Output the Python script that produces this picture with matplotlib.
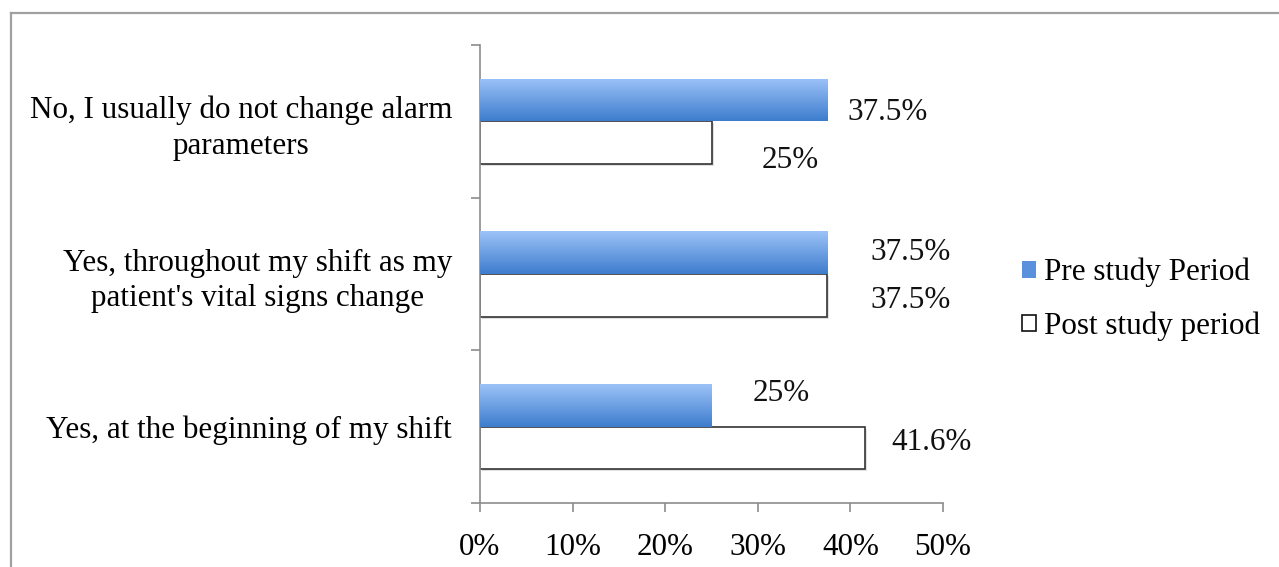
import numpy as np
import matplotlib
matplotlib.use("Agg")
import matplotlib.pyplot as plt
from matplotlib.lines import Line2D
from matplotlib.patches import Patch
from matplotlib.colors import LinearSegmentedColormap
import matplotlib.patheffects as pe

# ---- data ----
categories = ["No, I usually do not change alarm\nparameters",
              "Yes, throughout my shift as my\npatient's vital signs change",
              "Yes, at the beginning of my shift"]
pre_values = [37.5, 37.5, 25.0]
post_values = [25.0, 37.5, 41.6]
pre_labels = ["37.5%", "37.5%", "25%"]
post_labels = ["25%", "37.5%", "41.6%"]
series_names = ["Pre study Period", "Post study period"]
x_ticks = [0, 10, 20, 30, 40, 50]
x_tick_labels = ["0%", "10%", "20%", "30%", "40%", "50%"]

# label offsets (pixels: right of bar end, below bar centre)
pre_off = [(20, 13), (43, 0), (41, -12)]
post_off = [(50, 18), (43, 5), (26, -6)]

W, H, DPI = 1279, 567, 100
plt.rcParams['font.family'] = ['Liberation Serif', 'DejaVu Serif']
FS = 22.4
fig = plt.figure(figsize=(W / DPI, H / DPI), dpi=DPI)
ax = fig.add_axes([480 / W, 1 - 503 / H, (943 - 480) / W, (503 - 45) / H])

gray = '#8c8c8c'
h = 0.28
y = np.arange(len(categories))
shadow = [pe.SimplePatchShadow(offset=(1.5, -1.5), shadow_rgbFace='#000000', alpha=0.12), pe.Normal()]

pre_bars = ax.barh(y - h / 2, pre_values, height=h, color='#6a9de6', edgecolor='none', zorder=2)
post_bars = ax.barh(y + h / 2, post_values, height=h, color='white', edgecolor='#333333',
                    linewidth=1.2, zorder=2, path_effects=shadow)

cmap = LinearSegmentedColormap.from_list('g', ['#9cc2f8', '#3e7dcd'])
grad = np.linspace(0, 1, 64).reshape(-1, 1)
for b in pre_bars:
    x0, y0 = b.get_x(), b.get_y()
    im = ax.imshow(grad, cmap=cmap, aspect='auto', zorder=3,
                   extent=[x0, x0 + b.get_width(), y0 + b.get_height(), y0],
                   interpolation='bilinear')
    im.set_clip_path(b)

ax.set_xlim(0, 50)
ax.set_ylim(2.5, -0.5)

for bars, labs, offs in ((pre_bars, pre_labels, pre_off), (post_bars, post_labels, post_off)):
    for b, lab, (dx, dy) in zip(bars, labs, offs):
        ax.annotate(lab, xy=(b.get_width(), b.get_y() + b.get_height() / 2),
                    xytext=(dx * 0.72, -dy * 0.72), textcoords='offset points',
                    ha='left', va='center', fontsize=FS, color='#111111', zorder=5)

# axes styling
for s in ('top', 'right'):
    ax.spines[s].set_visible(False)
for s in ('left', 'bottom'):
    ax.spines[s].set_color(gray)
    ax.spines[s].set_linewidth(1.2)

ax.set_xticks(x_ticks)
ax.set_xticklabels(x_tick_labels, fontsize=FS)
ax.tick_params(axis='x', direction='out', length=6.5, width=1.2, color=gray, pad=15)

ax.set_yticks([-0.5, 0.5, 1.5, 2.5])
ax.set_yticklabels([])
ax.tick_params(axis='y', which='major', direction='out', length=6.5, width=1.2, color=gray)
ax.set_yticks(y, minor=True)
ax.set_yticklabels(categories, minor=True, fontsize=FS)
ax.tick_params(axis='y', which='minor', length=0, pad=20)
for t in ax.get_yticklabels(minor=True):
    t.set_multialignment('center')
    t.set_linespacing(1.3)

# legend
handles = [Patch(facecolor='#5a90dc', edgecolor='none'),
           Patch(facecolor='white', edgecolor='#111111', linewidth=1.2)]
fig.legend(handles, series_names, loc='center left', frameon=False,
           bbox_to_anchor=(1022 / W, 1 - 299.5 / H), fontsize=FS,
           handlelength=0.45, handleheight=0.45, handletextpad=0.25,
           labelspacing=0.78, borderpad=0, borderaxespad=0)

# outer frame (partially visible)
fig.add_artist(Line2D([11 / W, 11 / W], [0, 1 - 13 / H], transform=fig.transFigure,
                      color='#a0a0a0', linewidth=1.6))
fig.add_artist(Line2D([11 / W, 1], [1 - 13 / H, 1 - 13 / H], transform=fig.transFigure,
                      color='#a0a0a0', linewidth=1.6))

fig.savefig('out.png', dpi=DPI)
